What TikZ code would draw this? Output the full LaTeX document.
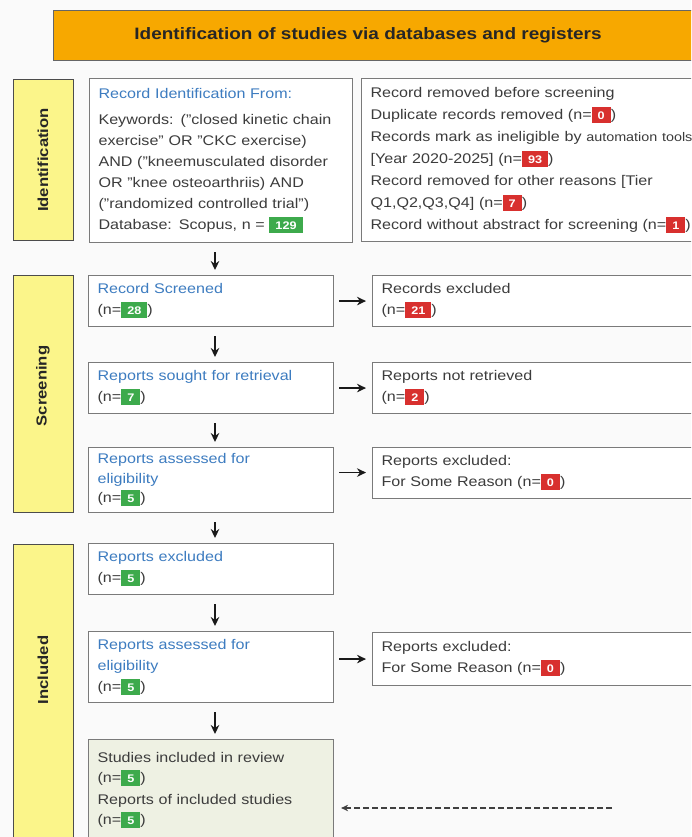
\documentclass[tikz,border=0pt]{standalone}
\usepackage{fontspec}
\setmainfont[FakeStretch=1.15]{Liberation Sans}
\usetikzlibrary{arrows.meta,calc}
\definecolor{bggray}{HTML}{FAFAFA}
\definecolor{hdr}{HTML}{F7A800}
\definecolor{sidey}{HTML}{FBF58A}
\definecolor{txt}{HTML}{3C3C3C}
\definecolor{ttl}{HTML}{3D7CC0}
\definecolor{bdr}{HTML}{7A7A7A}
\definecolor{bgreen}{HTML}{3DAA4C}
\definecolor{bred}{HTML}{D8302E}
\definecolor{incl}{HTML}{EEF1E3}
\newcommand\gb[1]{{\setlength\fboxsep{0pt}\colorbox{bgreen}{\rule[-3.5pt]{0pt}{16pt}\hspace{6pt}\textcolor{white}{\fontsize{11}{10}\selectfont\bfseries #1}\hspace{6pt}}}}
\newcommand\rb[1]{{\setlength\fboxsep{0pt}\colorbox{bred}{\rule[-3.5pt]{0pt}{16pt}\hspace{6pt}\textcolor{white}{\fontsize{11}{10}\selectfont\bfseries #1}\hspace{6pt}}}}
\newcommand\ttlc[1]{\textcolor{ttl}{#1}}
\begin{document}
\begin{tikzpicture}[x=1pt,y=-1pt,
  box/.style={draw=bdr, line width=1.1pt, fill=white, anchor=north west,
    inner xsep=9pt, inner ysep=0pt, align=left, text=txt,
    font=\fontsize{14}{21}\selectfont},
  sidebar/.style={draw=black!70, line width=1pt, fill=sidey, anchor=north west,
    inner sep=0pt, minimum width=60pt},
  sidelabel/.style={rotate=90, font=\fontsize{14.5}{16}\selectfont\bfseries, text=black!85},
  arr/.style={-{Stealth[length=9pt,width=8.5pt]}, line width=1.6pt, black!90,
    shorten <=9pt, shorten >=5pt},
  rarr/.style={-{Stealth[length=9pt,width=8.5pt]}, line width=1.6pt, black!90,
    shorten <=5pt, shorten >=6pt},
  darr/.style={-{Stealth[length=7pt,width=6.5pt]}, line width=1.1pt, black!75,
    dash pattern=on 6pt off 3pt, shorten >=7pt}]
\useasboundingbox (0,0) rectangle (691,837);
\clip (0,0) rectangle (691,837);
\fill[bggray] (0,0) rectangle (691,837);

% header
\node[draw=black!60, line width=1pt, fill=hdr, anchor=north west, inner sep=0pt,
  minimum width=660pt, minimum height=50pt] (hdr) at (53,10) {};
\node[font=\fontsize{16.5}{18}\selectfont\bfseries, text=black!85] (hdrt) at (368,35)
  {Identification of studies via databases and registers};

% side bars
\node[sidebar, minimum height=161pt] (sid) at (13,79) {};
\node[sidelabel] (sidl) at (43,160) {Identification};
\node[sidebar, minimum height=237pt] (sscr) at (13,275) {};
\node[sidelabel] (sscrl) at (43,386) {Screening};
\node[sidebar, minimum height=310pt] (sinc) at (13,544) {};
\node[sidelabel] (sincl) at (43,670) {Included};

% identification
\node[box, text width=245pt, minimum height=164pt] (b1) at (89,78) {%
\ttlc{Record Identification From:}\\[5pt]
Keywords: ("closed kinetic chain\\
exercise" OR "CKC exercise)\\
AND ("kneemusculated disorder\\
OR "knee osteoarthriis) AND\\
("randomized controlled trial")\\
Database: Scopus, n = \gb{129}};
\node[box, text width=322pt, minimum height=163pt,
  font=\fontsize{14}{22}\selectfont] (r1) at (361,78) {%
Record removed before screening\\
Duplicate records removed (n=\rb{0})\\
Records mark as ineligible by {\fontsize{12.5}{22}\selectfont automation tools}\\
{[}Year 2020-2025] (n=\rb{93})\\
Record removed for other reasons [Tier\\
Q1,Q2,Q3,Q4] (n=\rb{7})\\
Record without abstract for screening (n=\rb{1})};

% screening
\node[box, text width=227pt, minimum height=51pt] (rs) at (88,275) {%
\ttlc{Record Screened}\\ (n=\gb{28})};
\node[box, text width=312pt, minimum height=51pt] (re) at (372,275) {%
Records excluded\\ (n=\rb{21})};
\node[box, text width=227pt, minimum height=51pt] (rsr) at (88,362) {%
\ttlc{Reports sought for retrieval}\\ (n=\gb{7})};
\node[box, text width=312pt, minimum height=51pt] (rnr) at (372,362) {%
Reports not retrieved\\ (n=\rb{2})};
\node[box, text width=227pt, minimum height=65pt, font=\fontsize{14}{19.5}\selectfont] (ra) at (88,447) {%
\ttlc{Reports assessed for}\\ \ttlc{eligibility}\\ (n=\gb{5})};
\node[box, text width=312pt, minimum height=51pt] (rex) at (372,446.5) {%
Reports excluded:\\ For Some Reason (n=\rb{0})};

% included
\node[box, text width=227pt, minimum height=51pt] (iex) at (88,543) {%
\ttlc{Reports excluded}\\ (n=\gb{5})};
\node[box, text width=227pt, minimum height=71pt, font=\fontsize{14}{21}\selectfont] (ia) at (88,631) {%
\ttlc{Reports assessed for}\\ \ttlc{eligibility}\\ (n=\gb{5})};
\node[box, text width=312pt, minimum height=53pt] (iex2) at (372,632) {%
Reports excluded:\\ For Some Reason (n=\rb{0})};
\node[box, fill=incl, text width=227pt, minimum height=102pt, font=\fontsize{14}{20}\selectfont] (st) at (88,739) {%
Studies included in review\\ (n=\gb{5})\\[2pt]
Reports of included studies\\ (n=\gb{5})};

% connectors
\coordinate (cx) at (215,0);
\draw[arr] (b1.south -| cx) -- (rs.north -| cx);
\draw[arr] (rs.south -| cx) -- (rsr.north -| cx);
\draw[arr] (rsr.south -| cx) -- (ra.north -| cx);
\draw[arr] (ra.south -| cx) -- (iex.north -| cx);
\draw[arr] (iex.south -| cx) -- (ia.north -| cx);
\draw[arr] (ia.south -| cx) -- (st.north -| cx);
\draw[rarr] (rs.east) -- (re.west);
\draw[rarr] (rsr.east) -- (rnr.west);
\draw[rarr] (ra.east |- rex.west) -- (rex.west);
\draw[rarr] (ia.east |- iex2.west) -- (iex2.west);
\coordinate (dstart) at (612,808);
\draw[darr] (dstart) -- (st.east |- dstart);
\end{tikzpicture}
\end{document}
